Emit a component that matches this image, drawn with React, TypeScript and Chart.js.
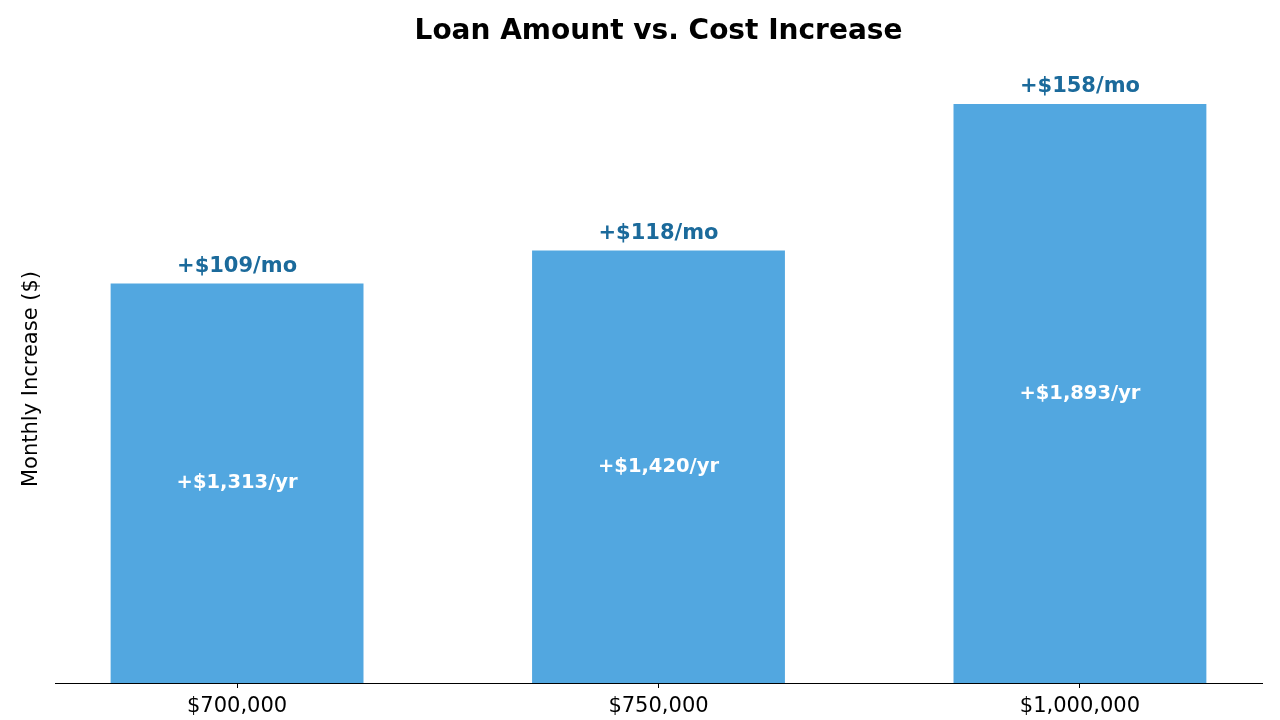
import React, { useEffect, useRef } from "react";
import { Chart, registerables } from "chart.js";

Chart.register(...registerables);

const categories = ["$700,000", "$750,000", "$1,000,000"];
const monthlyIncrease = [109, 118, 158];
const monthlyLabels = ["+$109/mo", "+$118/mo", "+$158/mo"];
const yearlyLabels = ["+$1,313/yr", "+$1,420/yr", "+$1,893/yr"];

const FONT = "'DejaVu Sans', sans-serif";

const barLabelPlugin = {
  id: "barLabels",
  afterDatasetsDraw(chart: any) {
    const ctx = chart.ctx;
    const meta = chart.getDatasetMeta(0);
    ctx.save();
    ctx.textAlign = "center";
    ctx.textBaseline = "middle";
    meta.data.forEach((bar: any, i: number) => {
      ctx.fillStyle = "#1b6a9b";
      ctx.font = `bold 21px ${FONT}`;
      ctx.fillText(monthlyLabels[i], bar.x, bar.y - 17);
      ctx.fillStyle = "#ffffff";
      ctx.font = `bold 19.5px ${FONT}`;
      ctx.fillText(yearlyLabels[i], bar.x, (bar.y + bar.base) / 2);
    });
    ctx.restore();
  },
};

const yLabelPlugin = {
  id: "yLabel",
  afterDraw(chart: any) {
    const ctx = chart.ctx;
    const area = chart.chartArea;
    ctx.save();
    ctx.translate(32, (area.top + area.bottom) / 2);
    ctx.rotate(-Math.PI / 2);
    ctx.textAlign = "center";
    ctx.textBaseline = "middle";
    ctx.fillStyle = "#000000";
    ctx.font = `21px ${FONT}`;
    ctx.fillText("Monthly Increase ($)", 0, 0);
    ctx.restore();
  },
};

export default function App() {
  const ref = useRef<HTMLCanvasElement | null>(null);
  useEffect(() => {
    document.body.style.margin = "0";
    if (!ref.current) return;
    const maxVal = Math.max(...monthlyIncrease);
    const chart = new Chart(ref.current, {
      type: "bar",
      data: {
        datasets: [
          {
            data: monthlyIncrease.map((v, i) => ({ x: i, y: v })),
            backgroundColor: "#52a7e0",
            borderWidth: 0,
            barPercentage: 0.6,
            categoryPercentage: 1.0,
          },
        ],
      },
      options: {
        animation: false,
        responsive: false,
        layout: { padding: { left: 55, right: 18, top: 0, bottom: 0 } },
        plugins: {
          legend: { display: false },
          tooltip: { enabled: false },
          title: {
            display: true,
            text: "Loan Amount vs. Cost Increase",
            color: "#000000",
            font: { family: FONT, size: 28, weight: "bold" },
            padding: { top: 15, bottom: 26.4 },
          },
        },
        scales: {
          x: {
            type: "linear",
            min: -0.432,
            max: categories.length - 1 + 0.432,
            offset: false,
            afterBuildTicks(scale: any) {
              scale.ticks = categories.map((_, i) => ({ value: i }));
            },
            afterFit(scale: any) {
              scale.height = 37;
            },
            ticks: {
              callback: (v: any) => categories[Math.round(Number(v))] ?? "",
              color: "#000000",
              font: { family: FONT, size: 21 },
              padding: 6,
              maxRotation: 0,
              autoSkip: false,
            },
            grid: {
              display: true,
              offset: false,
              drawOnChartArea: false,
              drawTicks: true,
              tickLength: 5,
              color: "#000000",
            },
            border: { display: true, color: "#000000", width: 1 },
          },
          y: {
            display: false,
            min: 0,
            max: maxVal * 1.05,
          },
        },
      },
      plugins: [barLabelPlugin, yLabelPlugin],
    });
    return () => chart.destroy();
  }, []);
  return (
    <div style={{ position: "absolute", left: 0, top: 0, width: 1280, height: 720, background: "#fff" }}>
      <canvas ref={ref} width={1280} height={720} style={{ width: 1280, height: 720 }} />
    </div>
  );
}
